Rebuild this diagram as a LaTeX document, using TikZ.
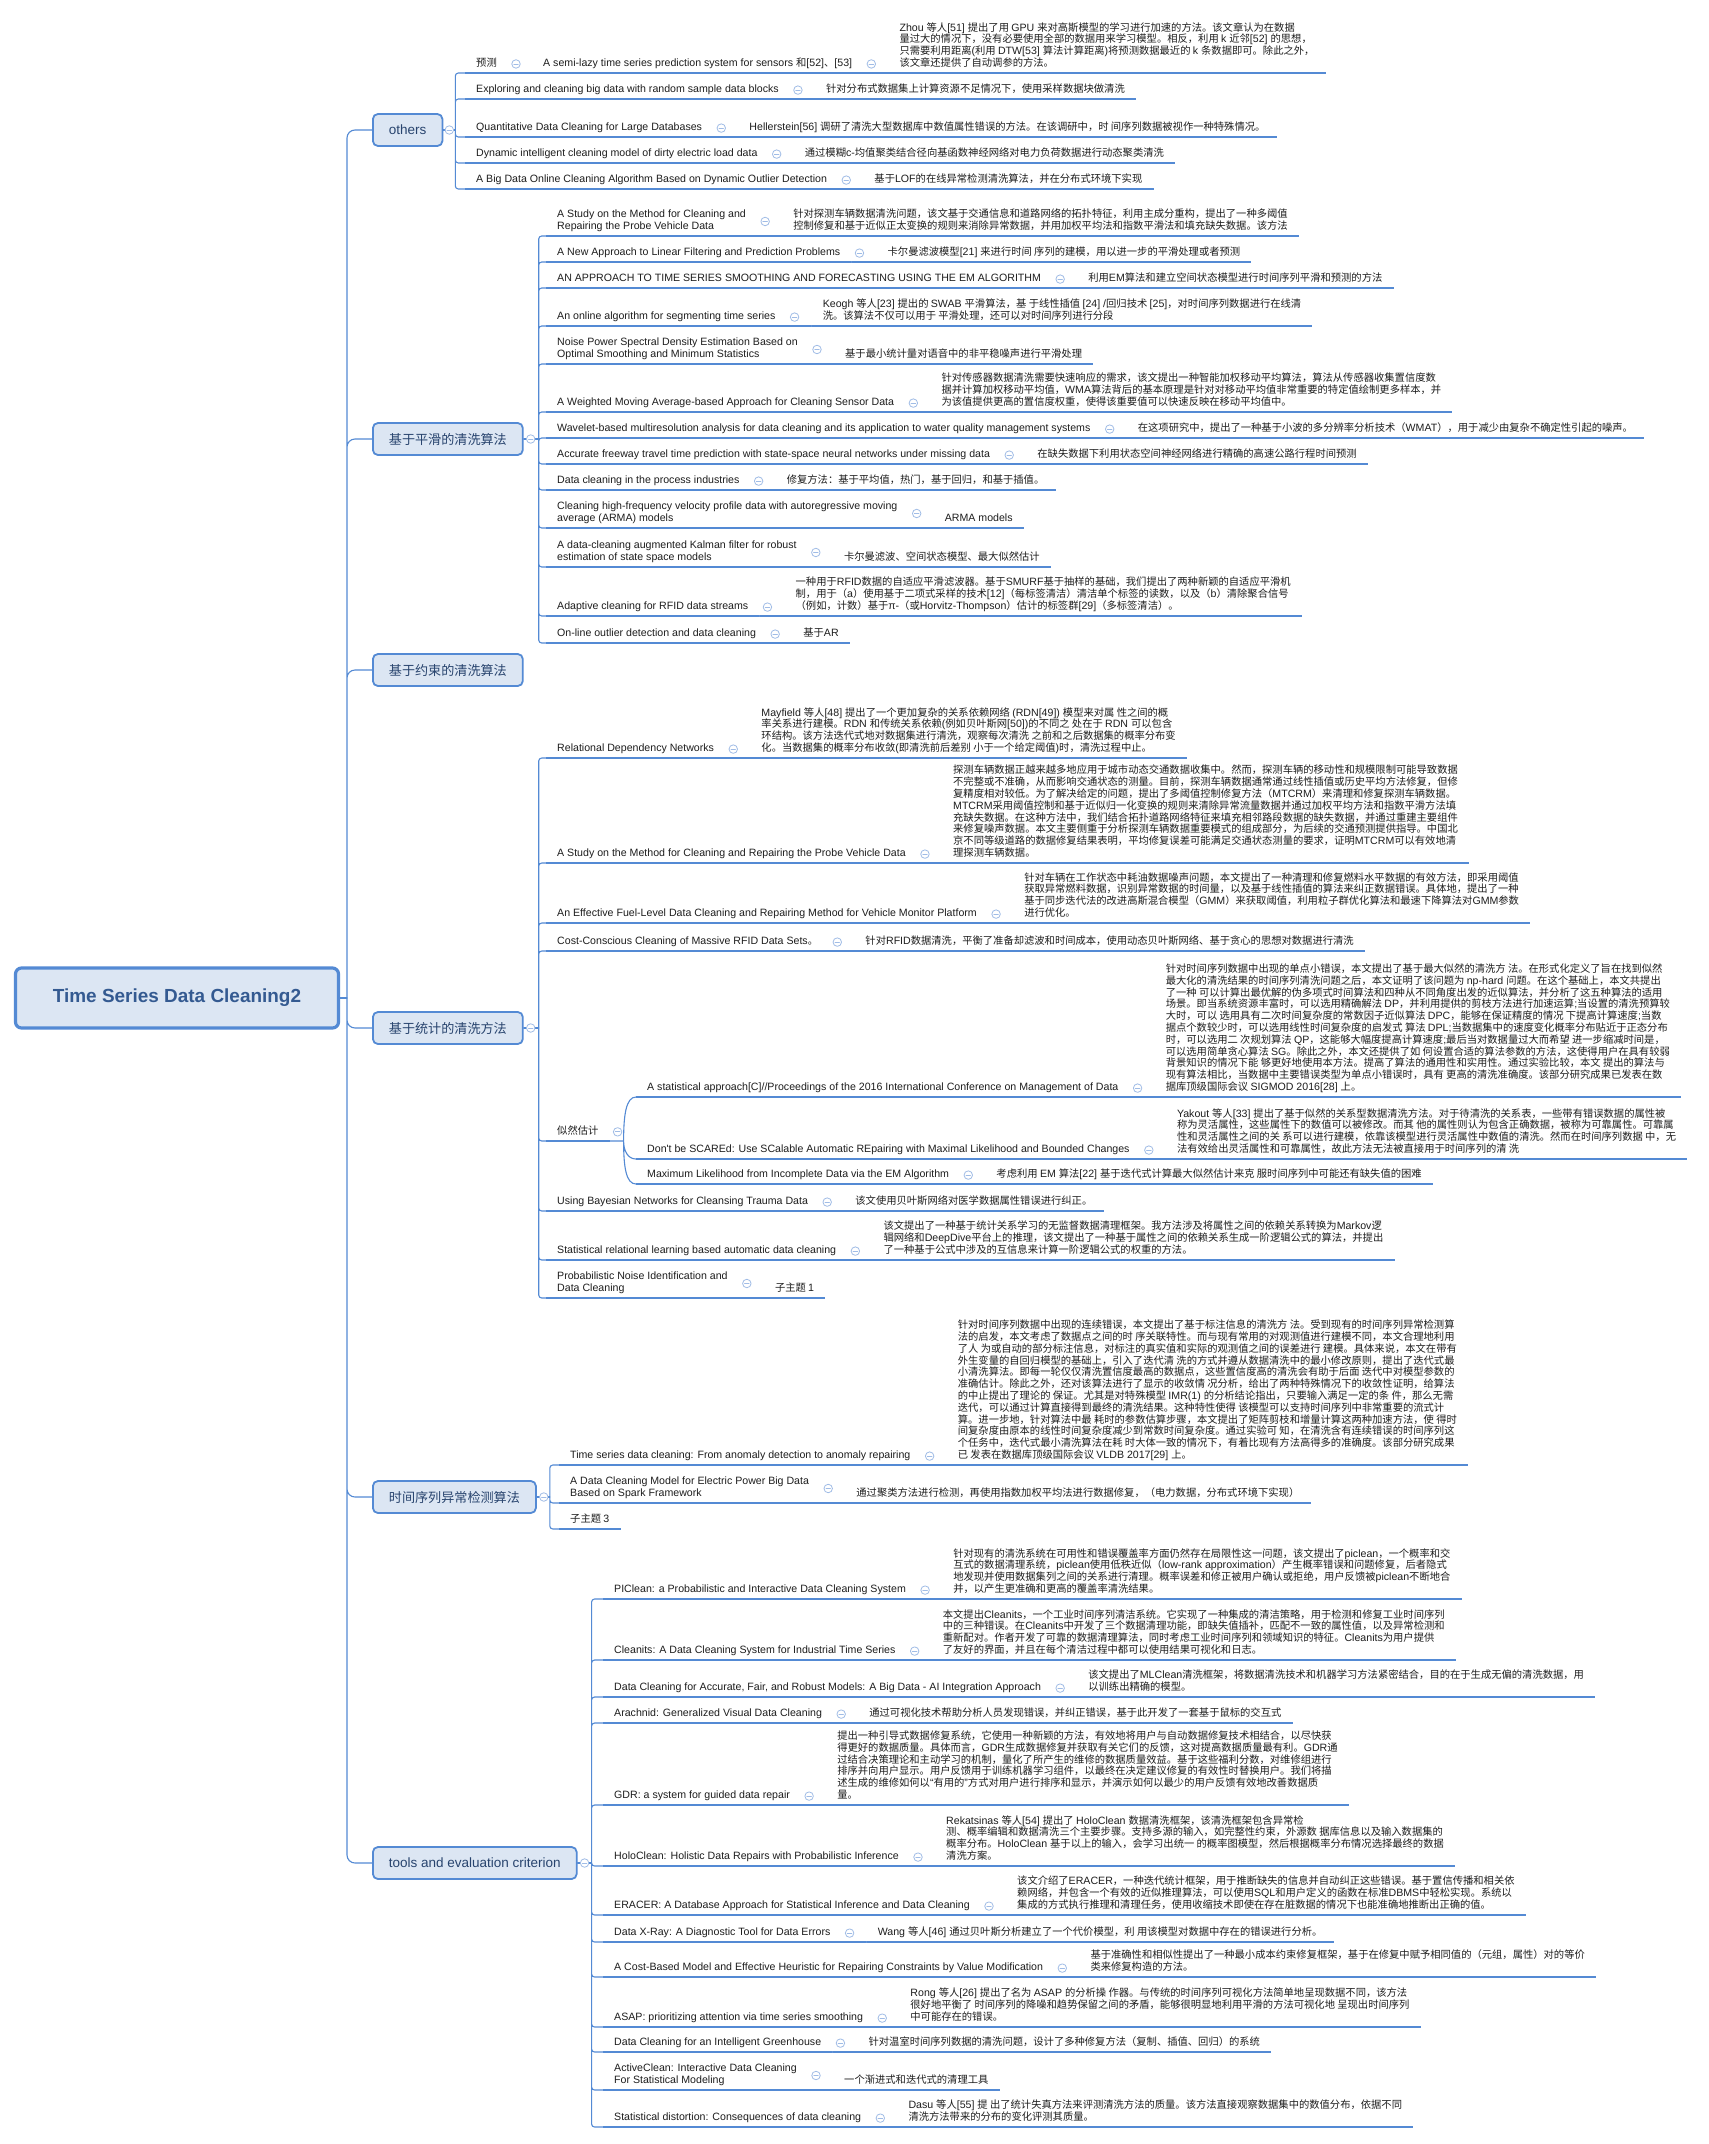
\documentclass[tikz,border=0pt]{standalone}
\usepackage{fontspec}
\setmainfont[Scale=1.03]{Liberation Sans}
\newfontfamily\latinfont[Scale=1.03]{Liberation Sans}
\newfontfamily\cjkfont{Noto Sans CJK SC}
\XeTeXinterchartokenstate=1
\newXeTeXintercharclass\cjkclass
\newcount\cjkcode
\def\cjkrange#1#2{\cjkcode=#1 \loop\XeTeXcharclass\cjkcode=\cjkclass\advance\cjkcode by 1 \ifnum\cjkcode<#2 \repeat}
\cjkrange{"3000}{"3040}
\cjkrange{"4E00}{"A000}
\cjkrange{"FF00}{"FFF0}
\XeTeXinterchartoks 0 \cjkclass = {\cjkfont}
\XeTeXinterchartoks 4095 \cjkclass = {\cjkfont}
\XeTeXinterchartoks \cjkclass 0 = {\latinfont}
\XeTeXinterchartoks 4095 0 = {\latinfont}
\usetikzlibrary{positioning}
\definecolor{mapline}{RGB}{84,138,212}
\definecolor{boxfill}{RGB}{220,230,243}
\definecolor{foldblue}{RGB}{160,188,230}
\definecolor{rootblue}{RGB}{52,90,145}
\definecolor{topicblue}{RGB}{40,68,110}
\definecolor{leafgray}{RGB}{30,30,30}
\begin{document}
\begin{tikzpicture}[x=1pt,y=-1pt,line join=round,line cap=round,
  central/.style={draw=mapline,line width=3.2pt,fill=boxfill,rounded corners=6pt,minimum width=323pt,minimum height=60pt,text=rootblue,font=\fontsize{18.4}{22}\selectfont\bfseries},
  topic/.style={draw=mapline,line width=1.8pt,fill=boxfill,rounded corners=5pt,minimum height=32pt,inner xsep=16pt,anchor=west,text=topicblue,font=\fontsize{13.1}{15}\selectfont},
  leaf/.style={anchor=south west,align=left,inner xsep=11pt,inner ysep=2.8pt,text=leafgray,font=\fontsize{10.3}{11.8}\selectfont,execute at end node=\strut},
  desc/.style={leaf},
  uline/.style={mapline,line width=2.2pt,line cap=butt},
  link/.style={mapline,line width=1.1pt},
  fold/.style={circle,draw=foldblue,fill=white,line width=0.8pt,inner sep=0pt,minimum size=8.5pt,
    path picture={\draw[foldblue,line width=0.8pt] ([xshift=2pt]path picture bounding box.west) -- ([xshift=-2pt]path picture bounding box.east);}}]
\fill[white] (0,0) rectangle (1708,2144);
\def\paper#1#2#3#4{\node[leaf] (#1) at (#2) {#3};
  \node[desc] (#1d) at ([xshift=25pt]#1.south east) {#4};
  \node[fold] at ([xshift=8pt]#1.east) {};
  \draw[uline] (#1.south west) -- (#1.south east) (#1d.south west) -- (#1d.south east);
  \draw[link] (#1.south east) -- (#1d.south west);}
\node[central] (root) at (177,998) {Time Series Data Cleaning2};
\node[topic] (others) at (372,130) {others};
\node[topic] (smooth) at (372,439) {基于平滑的清洗算法};
\node[topic] (constr) at (372,670) {基于约束的清洗算法};
\node[topic] (stats) at (372,1028) {基于统计的清洗方法};
\node[topic] (anom) at (372,1497) {时间序列异常检测算法};
\node[topic] (tools) at (372,1863) {tools and evaluation criterion};
\coordinate (rootJ) at (347,998);
\draw[link] (root.east) -- (rootJ);
\draw[link,rounded corners=8pt] (rootJ) |- (others.west) (rootJ) |- (smooth.west) (rootJ) |- (constr.west)
  (rootJ) |- (stats.west) (rootJ) |- (anom.west) (rootJ) |- (tools.west);

\node[leaf] (o1) at (465,73) {预测};
\node[fold] at ([xshift=8pt]o1.east) {};
\draw[uline] (o1.south west) -- (o1.south east);
\paper{o1a}{[xshift=24pt]o1.south east}{A semi-lazy time series prediction system for sensors 和[52]、[53]}{Zhou 等人[51] 提出了用 GPU 来对高斯模型的学习进行加速的方法。该文章认为在数据\\量过大的情况下，没有必要使用全部的数据用来学习模型。相反，利用 k 近邻[52] 的思想，\\只需要利用距离(利用 DTW[53] 算法计算距离)将预测数据最近的 k 条数据即可。除此之外，\\该文章还提供了自动调参的方法。}
\draw[link] (o1.south east) -- (o1a.south west);
\paper{o2}{465,99}{Exploring and cleaning big data with random sample data blocks}{针对分布式数据集上计算资源不足情况下，使用采样数据块做清洗}
\paper{o3}{465,137}{Quantitative Data Cleaning for Large Databases}{Hellerstein[56] 调研了清洗大型数据库中数值属性错误的方法。在该调研中，时 间序列数据被视作一种特殊情况。}
\paper{o4}{465,163}{Dynamic intelligent cleaning model of dirty electric load data}{通过模糊c-均值聚类结合径向基函数神经网络对电力负荷数据进行动态聚类清洗}
\paper{o5}{465,189}{A Big Data Online Cleaning Algorithm Based on Dynamic Outlier Detection}{基于LOF的在线异常检测清洗算法，并在分布式环境下实现}
\coordinate (oJ) at ([xshift=12pt]others.east);
\draw[link] (others.east) -- (oJ);
\draw[link,rounded corners=3pt] (oJ) |- (o1.south west) (oJ) |- (o2.south west) (oJ) |- (o3.south west)
  (oJ) |- (o4.south west) (oJ) |- (o5.south west);

\paper{s1}{546,236}{A Study on the Method for Cleaning and\\Repairing the Probe Vehicle Data}{针对探测车辆数据清洗问题，该文基于交通信息和道路网络的拓扑特征，利用主成分重构，提出了一种多阈值\\控制修复和基于近似正太变换的规则来消除异常数据，并用加权平均法和指数平滑法和填充缺失数据。该方法}
\paper{s2}{546,262}{A New Approach to Linear Filtering and Prediction Problems}{卡尔曼滤波模型[21] 来进行时间 序列的建模，用以进一步的平滑处理或者预测}
\paper{s3}{546,288}{AN APPROACH TO TIME SERIES SMOOTHING AND FORECASTING USING THE EM ALGORITHM}{利用EM算法和建立空间状态模型进行时间序列平滑和预测的方法}
\paper{s4}{546,326}{An online algorithm for segmenting time series}{Keogh 等人[23] 提出的 SWAB 平滑算法，基 于线性插值 [24] /回归技术 [25]，对时间序列数据进行在线清\\洗。该算法不仅可以用于 平滑处理，还可以对时间序列进行分段}
\paper{s5}{546,364}{Noise Power Spectral Density Estimation Based on\\Optimal Smoothing and Minimum Statistics}{基于最小统计量对语音中的非平稳噪声进行平滑处理}
\paper{s6}{546,412}{A Weighted Moving Average-based Approach for Cleaning Sensor Data}{针对传感器数据清洗需要快速响应的需求，该文提出一种智能加权移动平均算法，算法从传感器收集置信度数\\据并计算加权移动平均值，WMA算法背后的基本原理是针对对移动平均值非常重要的特定值绘制更多样本，并\\为该值提供更高的置信度权重，使得该重要值可以快速反映在移动平均值中。}
\paper{s7}{546,438}{Wavelet-based multiresolution analysis for data cleaning and its application to water quality management systems}{在这项研究中，提出了一种基于小波的多分辨率分析技术（WMAT），用于减少由复杂不确定性引起的噪声。}
\paper{s8}{546,464}{Accurate freeway travel time prediction with state-space neural networks under missing data}{在缺失数据下利用状态空间神经网络进行精确的高速公路行程时间预测}
\paper{s9}{546,490}{Data cleaning in the process industries}{修复方法：基于平均值，热门，基于回归，和基于插值。}
\paper{s10}{546,528}{Cleaning high-frequency velocity profile data with autoregressive moving\\average (ARMA) models}{ARMA models}
\paper{s11}{546,567}{A data-cleaning augmented Kalman filter for robust\\estimation of state space models}{卡尔曼滤波、空间状态模型、最大似然估计}
\paper{s12}{546,616}{Adaptive cleaning for RFID data streams}{一种用于RFID数据的自适应平滑滤波器。基于SMURF基于抽样的基础，我们提出了两种新颖的自适应平滑机\\制，用于（a）使用基于二项式采样的技术[12]（每标签清洁）清洁单个标签的读数，以及（b）清除聚合信号\\（例如，计数）基于π-（或Horvitz-Thompson）估计的标签群[29]（多标签清洁）。}
\paper{s13}{546,643}{On-line outlier detection and data cleaning}{基于AR}
\coordinate (sJ) at ([xshift=15pt]smooth.east);
\draw[link] (smooth.east) -- (sJ);
\draw[link,rounded corners=3pt] (sJ) |- (s1.south west) (sJ) |- (s2.south west) (sJ) |- (s3.south west)
  (sJ) |- (s4.south west) (sJ) |- (s5.south west) (sJ) |- (s6.south west) (sJ) |- (s7.south west)
  (sJ) |- (s8.south west) (sJ) |- (s9.south west) (sJ) |- (s10.south west) (sJ) |- (s11.south west)
  (sJ) |- (s12.south west) (sJ) |- (s13.south west);

\paper{t1}{546,758}{Relational Dependency Networks}{Mayfield 等人[48] 提出了一个更加复杂的关系依赖网络 (RDN[49]) 模型来对属 性之间的概\\率关系进行建模。RDN 和传统关系依赖(例如贝叶斯网[50])的不同之 处在于 RDN 可以包含\\环结构。该方法迭代式地对数据集进行清洗，观察每次清洗 之前和之后数据集的概率分布变\\化。当数据集的概率分布收敛(即清洗前后差别 小于一个给定阈值)时，清洗过程中止。}
\paper{t2}{546,863}{A Study on the Method for Cleaning and Repairing the Probe Vehicle Data}{探测车辆数据正越来越多地应用于城市动态交通数据收集中。然而，探测车辆的移动性和规模限制可能导致数据\\不完整或不准确，从而影响交通状态的测量。目前，探测车辆数据通常通过线性插值或历史平均方法修复，但修\\复精度相对较低。为了解决给定的问题，提出了多阈值控制修复方法（MTCRM）来清理和修复探测车辆数据。\\MTCRM采用阈值控制和基于近似归一化变换的规则来清除异常流量数据并通过加权平均方法和指数平滑方法填\\充缺失数据。在这种方法中，我们结合拓扑道路网络特征来填充相邻路段数据的缺失数据，并通过重建主要组件\\来修复噪声数据。本文主要侧重于分析探测车辆数据重要模式的组成部分，为后续的交通预测提供指导。中国北\\京不同等级道路的数据修复结果表明，平均修复误差可能满足交通状态测量的要求，证明MTCRM可以有效地清\\理探测车辆数据。}
\paper{t3}{546,923}{An Effective Fuel-Level Data Cleaning and Repairing Method for Vehicle Monitor Platform}{针对车辆在工作状态中耗油数据噪声问题，本文提出了一种清理和修复燃料水平数据的有效方法，即采用阈值\\获取异常燃料数据，识别异常数据的时间量，以及基于线性插值的算法来纠正数据错误。具体地，提出了一种\\基于同步迭代法的改进高斯混合模型（GMM）来获取阈值，利用粒子群优化算法和最速下降算法对GMM参数\\进行优化。}
\paper{t4}{546,951}{Cost-Conscious Cleaning of Massive RFID Data Sets。}{针对RFID数据清洗，平衡了准备却滤波和时间成本，使用动态贝叶斯网络、基于贪心的思想对数据进行清洗}
\node[leaf] (t5) at (546,1141) {似然估计};
\node[fold] at ([xshift=8pt]t5.east) {};
\draw[uline] (t5.south west) -- (t5.south east);
\paper{t5a}{636,1097}{A statistical approach[C]//Proceedings of the 2016 International Conference on Management of Data}{针对时间序列数据中出现的单点小错误，本文提出了基于最大似然的清洗方 法。在形式化定义了旨在找到似然\\最大化的清洗结果的时间序列清洗问题之后，本文证明了该问题为 np-hard 问题。在这个基础上，本文共提出\\了一种 可以计算出最优解的伪多项式时间算法和四种从不同角度出发的近似算法，并分析了这五种算法的适用\\场景。即当系统资源丰富时，可以选用精确解法 DP，并利用提供的剪枝方法进行加速运算;当设置的清洗预算较\\大时，可以 选用具有二次时间复杂度的常数因子近似算法 DPC，能够在保证精度的情况 下提高计算速度;当数\\据点个数较少时，可以选用线性时间复杂度的启发式 算法 DPL;当数据集中的速度变化概率分布贴近于正态分布\\时，可以选用二 次规划算法 QP，这能够大幅度提高计算速度;最后当对数据量过大而希望 进一步缩减时间是，\\可以选用简单贪心算法 SG。除此之外，本文还提供了如 何设置合适的算法参数的方法，这使得用户在具有较弱\\背景知识的情况下能 够更好地使用本方法。提高了算法的通用性和实用性。通过实验比较，本文 提出的算法与\\现有算法相比，当数据中主要错误类型为单点小错误时，具有 更高的清洗准确度。该部分研究成果已发表在数\\据库顶级国际会议 SIGMOD 2016[28] 上。}
\paper{t5b}{636,1159}{Don't be SCAREd: Use SCalable Automatic REpairing with Maximal Likelihood and Bounded Changes}{Yakout 等人[33] 提出了基于似然的关系型数据清洗方法。对于待清洗的关系表，一些带有错误数据的属性被\\称为灵活属性，这些属性下的数值可以被修改。而其 他的属性则认为包含正确数据，被称为可靠属性。可靠属\\性和灵活属性之间的关 系可以进行建模，依靠该模型进行灵活属性中数值的清洗。然而在时间序列数据 中，无\\法有效给出灵活属性和可靠属性，故此方法无法被直接用于时间序列的清 洗}
\paper{t5c}{636,1184}{Maximum Likelihood from Incomplete Data via the EM Algorithm}{考虑利用 EM 算法[22] 基于迭代式计算最大似然估计来克 服时间序列中可能还有缺失值的困难}
\coordinate (t5J) at ([xshift=14pt]t5.south east);
\draw[link] (t5.south east) -- (t5J) .. controls +(0,-26) and +(-10,0) .. (t5a.south west)
  (t5J) .. controls +(0,10) and +(-8,0) .. (t5b.south west)
  (t5J) .. controls +(0,26) and +(-10,0) .. (t5c.south west);
\paper{t6}{546,1211}{Using Bayesian Networks for Cleansing Trauma Data}{该文使用贝叶斯网络对医学数据属性错误进行纠正。}
\paper{t7}{546,1260}{Statistical relational learning based automatic data cleaning}{该文提出了一种基于统计关系学习的无监督数据清理框架。我方法涉及将属性之间的依赖关系转换为Markov逻\\辑网络和DeepDive平台上的推理，该文提出了一种基于属性之间的依赖关系生成一阶逻辑公式的算法，并提出\\了一种基于公式中涉及的互信息来计算一阶逻辑公式的权重的方法。}
\paper{t8}{546,1298}{Probabilistic Noise Identification and\\Data Cleaning}{子主题 1}
\coordinate (tJ) at ([xshift=15pt]stats.east);
\draw[link] (stats.east) -- (tJ);
\draw[link,rounded corners=3pt] (tJ) |- (t1.south west) (tJ) |- (t2.south west) (tJ) |- (t3.south west)
  (tJ) |- (t4.south west) (tJ) |- (t5.south west) (tJ) |- (t6.south west) (tJ) |- (t7.south west)
  (tJ) |- (t8.south west);

\paper{a1}{559,1465}{Time series data cleaning: From anomaly detection to anomaly repairing}{针对时间序列数据中出现的连续错误，本文提出了基于标注信息的清洗方 法。受到现有的时间序列异常检测算\\法的启发，本文考虑了数据点之间的时 序关联特性。而与现有常用的对观测值进行建模不同，本文合理地利用\\了人 为或自动的部分标注信息，对标注的真实值和实际的观测值之间的误差进行 建模。具体来说，本文在带有\\外生变量的自回归模型的基础上，引入了迭代清 洗的方式并遵从数据清洗中的最小修改原则，提出了迭代式最\\小清洗算法。即每一轮仅仅清洗置信度最高的数据点，这些置信度高的清洗会有助于后面 迭代中对模型参数的\\准确估计。除此之外，还对该算法进行了显示的收敛情 况分析，给出了两种特殊情况下的收敛性证明，给算法\\的中止提出了理论的 保证。尤其是对特殊模型 IMR(1) 的分析结论指出，只要输入满足一定的条 件，那么无需\\迭代，可以通过计算直接得到最终的清洗结果。这种特性使得 该模型可以支持时间序列中非常重要的流式计\\算。进一步地，针对算法中最 耗时的参数估算步骤，本文提出了矩阵剪枝和增量计算这两种加速方法，使 得时\\间复杂度由原本的线性时间复杂度减少到常数时间复杂度。通过实验可 知，在清洗含有连续错误的时间序列这\\个任务中，迭代式最小清洗算法在耗 时大体一致的情况下，有着比现有方法高得多的准确度。该部分研究成果\\已 发表在数据库顶级国际会议 VLDB 2017[29] 上。}
\paper{a2}{559,1503}{A Data Cleaning Model for Electric Power Big Data\\Based on Spark Framework}{通过聚类方法进行检测，再使用指数加权平均法进行数据修复，（电力数据，分布式环境下实现）}
\node[leaf] (a3) at (559,1529) {子主题 3};
\draw[uline] (a3.south west) -- (a3.south east);
\coordinate (aJ) at ([xshift=13pt]anom.east);
\draw[link] (anom.east) -- (aJ);
\draw[link,rounded corners=3pt] (aJ) |- (a1.south west) (aJ) |- (a2.south west) (aJ) |- (a3.south west);

\paper{k1}{603,1599}{PIClean: a Probabilistic and Interactive Data Cleaning System}{针对现有的清洗系统在可用性和错误覆盖率方面仍然存在局限性这一问题，该文提出了piclean，一个概率和交\\互式的数据清理系统，piclean使用低秩近似（low-rank approximation）产生概率错误和问题修复，后者隐式\\地发现并使用数据集列之间的关系进行清理。概率误差和修正被用户确认或拒绝，用户反馈被piclean不断地合\\并，以产生更准确和更高的覆盖率清洗结果。}
\paper{k2}{603,1660}{Cleanits: A Data Cleaning System for Industrial Time Series}{本文提出Cleanits，一个工业时间序列清洁系统。它实现了一种集成的清洁策略，用于检测和修复工业时间序列\\中的三种错误。在Cleanits中开发了三个数据清理功能，即缺失值插补，匹配不一致的属性值，以及异常检测和\\重新配对。作者开发了可靠的数据清理算法，同时考虑工业时间序列和领域知识的特征。Cleanits为用户提供\\了友好的界面，并且在每个清洁过程中都可以使用结果可视化和日志。}
\paper{k3}{603,1697}{Data Cleaning for Accurate, Fair, and Robust Models: A Big Data - AI Integration Approach}{该文提出了MLClean清洗框架，将数据清洗技术和机器学习方法紧密结合，目的在于生成无偏的清洗数据，用\\以训练出精确的模型。}
\paper{k4}{603,1723}{Arachnid: Generalized Visual Data Cleaning}{通过可视化技术帮助分析人员发现错误，并纠正错误，基于此开发了一套基于鼠标的交互式}
\paper{k5}{603,1805}{GDR: a system for guided data repair}{提出一种引导式数据修复系统，它使用一种新颖的方法，有效地将用户与自动数据修复技术相结合，以尽快获\\得更好的数据质量。具体而言，GDR生成数据修复并获取有关它们的反馈，这对提高数据质量最有利。GDR通\\过结合决策理论和主动学习的机制，量化了所产生的维修的数据质量效益。基于这些福利分数，对维修组进行\\排序并向用户显示。用户反馈用于训练机器学习组件，以最终在决定建议修复的有效性时替换用户。我们将描\\述生成的维修如何以“有用的”方式对用户进行排序和显示，并演示如何以最少的用户反馈有效地改善数据质\\量。}
\paper{k6}{603,1866}{HoloClean: Holistic Data Repairs with Probabilistic Inference}{Rekatsinas 等人[54] 提出了 HoloClean 数据清洗框架，该清洗框架包含异常检\\测、概率编辑和数据清洗三个主要步骤。支持多源的输入，如完整性约束，外源数 据库信息以及输入数据集的\\概率分布。HoloClean 基于以上的输入，会学习出统一 的概率图模型，然后根据概率分布情况选择最终的数据\\清洗方案。}
\paper{k7}{603,1915}{ERACER: A Database Approach for Statistical Inference and Data Cleaning}{该文介绍了ERACER，一种迭代统计框架，用于推断缺失的信息并自动纠正这些错误。基于置信传播和相关依\\赖网络，并包含一个有效的近似推理算法，可以使用SQL和用户定义的函数在标准DBMS中轻松实现。系统以\\集成的方式执行推理和清理任务，使用收缩技术即使在存在脏数据的情况下也能准确地推断出正确的值。}
\paper{k8}{603,1942}{Data X-Ray: A Diagnostic Tool for Data Errors}{Wang 等人[46] 通过贝叶斯分析建立了一个代价模型，利 用该模型对数据中存在的错误进行分析。}
\paper{k9}{603,1977}{A Cost-Based Model and Effective Heuristic for Repairing Constraints by Value Modification}{基于准确性和相似性提出了一种最小成本约束修复框架，基于在修复中赋予相同值的（元组，属性）对的等价\\类来修复构造的方法。}
\paper{k10}{603,2027}{ASAP: prioritizing attention via time series smoothing}{Rong 等人[26] 提出了名为 ASAP 的分析操 作器。与传统的时间序列可视化方法简单地呈现数据不同，该方法\\很好地平衡了 时间序列的降噪和趋势保留之间的矛盾，能够很明显地利用平滑的方法可视化地 呈现出时间序列\\中可能存在的错误。}
\paper{k11}{603,2052}{Data Cleaning for an Intelligent Greenhouse}{针对温室时间序列数据的清洗问题，设计了多种修复方法（复制、插值、回归）的系统}
\paper{k12}{603,2090}{ActiveClean: Interactive Data Cleaning\\For Statistical Modeling}{一个渐进式和迭代式的清理工具}
\paper{k13}{603,2127}{Statistical distortion: Consequences of data cleaning}{Dasu 等人[55] 提 出了统计失真方法来评测清洗方法的质量。该方法直接观察数据集中的数值分布，依据不同\\清洗方法带来的分布的变化评测其质量。}
\coordinate (kJ) at ([xshift=14pt]tools.east);
\draw[link] (tools.east) -- (kJ);
\draw[link,rounded corners=3pt] (kJ) |- (k1.south west) (kJ) |- (k2.south west) (kJ) |- (k3.south west)
  (kJ) |- (k4.south west) (kJ) |- (k5.south west) (kJ) |- (k6.south west) (kJ) |- (k7.south west)
  (kJ) |- (k8.south west) (kJ) |- (k9.south west) (kJ) |- (k10.south west) (kJ) |- (k11.south west)
  (kJ) |- (k12.south west) (kJ) |- (k13.south west);

\node[fold] at ([xshift=6pt]others.east) {};
\node[fold] at ([xshift=7pt]smooth.east) {};
\node[fold] at ([xshift=7pt]stats.east) {};
\node[fold] at ([xshift=7pt]anom.east) {};
\node[fold] at ([xshift=7pt]tools.east) {};
\useasboundingbox (0,0) rectangle (1708,2144);
\end{tikzpicture}
\end{document}
